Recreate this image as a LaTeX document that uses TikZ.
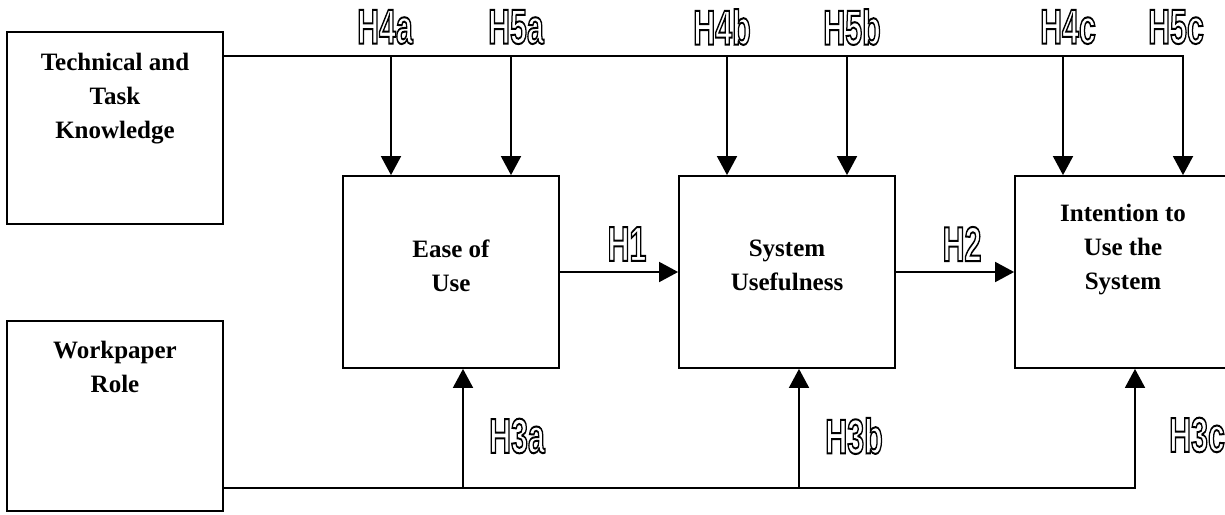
\documentclass[tikz,border=0pt]{standalone}
\usepackage{fontspec}
\setmainfont{Liberation Serif}
\newfontfamily\hypfont{Liberation Sans}
\usetikzlibrary{arrows.meta,positioning}

% hollow hypothesis labels
\newcommand{\hyp}[1]{\scalebox{0.62}[1]{\hypfont\bfseries\fontsize{49}{49}\selectfont
  \special{pdf:literal direct 1 Tr 2 w}#1\special{pdf:literal direct 0 Tr}}}

\begin{document}
\begin{tikzpicture}[
    x=1pt, y=-1pt,
    font=\bfseries\fontsize{25}{34}\selectfont,
    line width=1.8pt,
    box/.style={
        draw,
        minimum width=216pt,
        minimum height=192pt,
        inner sep=0pt
    },
    boxtext/.style={
        align=center,
        inner sep=0pt
    },
    hyplabel/.style={
        inner sep=0pt
    },
    arrow/.style={
        -{Triangle[length=19pt,width=20pt]}
    }
]
\useasboundingbox (0,0) rectangle (1225,514);

\node[box] (tech) at (115,128) {};
\node[box, minimum height=190pt] (role) at (115,416) {};
\node[box] (ease) at (451,272) {};
\node[box] (useful) at (787,272) {};
\node[box] (intent) at (1123,272) {};

\node[boxtext, below=21pt of tech.north] (techtext) {Technical and\\Task\\Knowledge};
\node[boxtext, below=20pt of role.north] (roletext) {Workpaper\\Role};
\node[boxtext, below=64pt of ease.north] (easetext) {Ease of\\Use};
\node[boxtext, below=64pt of useful.north] (usefultext) {System\\Usefulness};
\node[boxtext, below=28pt of intent.north] (intenttext) {Intention to\\Use the\\System};

\coordinate (h4a) at (391,56);
\coordinate (h5a) at (511,56);
\coordinate (h4b) at (727,56);
\coordinate (h5b) at (847,56);
\coordinate (h4c) at (1063,56);
\coordinate (h5c) at (1183,56);
\coordinate (h3a) at (463,488);
\coordinate (h3b) at (799,488);
\coordinate (h3c) at (1135,488);

\draw[arrow] (tech.east |- h5c) -- (h5c) -- (h5c |- intent.north);
\foreach \h/\b in {h4a/ease, h5a/ease, h4b/useful, h5b/useful, h4c/intent}
    \draw[arrow] (\h) -- (\h |- \b.north);

\draw[arrow] (role.east |- h3c) -- (h3c) -- (h3c |- intent.south);
\foreach \h/\b in {h3a/ease, h3b/useful}
    \draw[arrow] (\h) -- (\h |- \b.south);

\draw[arrow] (ease) -- (useful);
\draw[arrow] (useful) -- (intent);

\node[hyplabel] (l4a) at (385,27) {\hyp{H4a}};
\node[hyplabel] (l5a) at (516,27) {\hyp{H5a}};
\node[hyplabel] (l4b) at (722,27) {\hyp{H4b}};
\node[hyplabel] (l5b) at (852,27) {\hyp{H5b}};
\node[hyplabel] (l4c) at (1068,27) {\hyp{H4c}};
\node[hyplabel] (l5c) at (1176,27) {\hyp{H5c}};
\node[hyplabel] (l1) at (627,244) {\hyp{H1}};
\node[hyplabel] (l2) at (962,244) {\hyp{H2}};
\node[hyplabel] (l3a) at (517,436) {\hyp{H3a}};
\node[hyplabel] (l3b) at (854,436) {\hyp{H3b}};
\node[hyplabel] (l3c) at (1197,435) {\hyp{H3c}};

\end{tikzpicture}
\end{document}
